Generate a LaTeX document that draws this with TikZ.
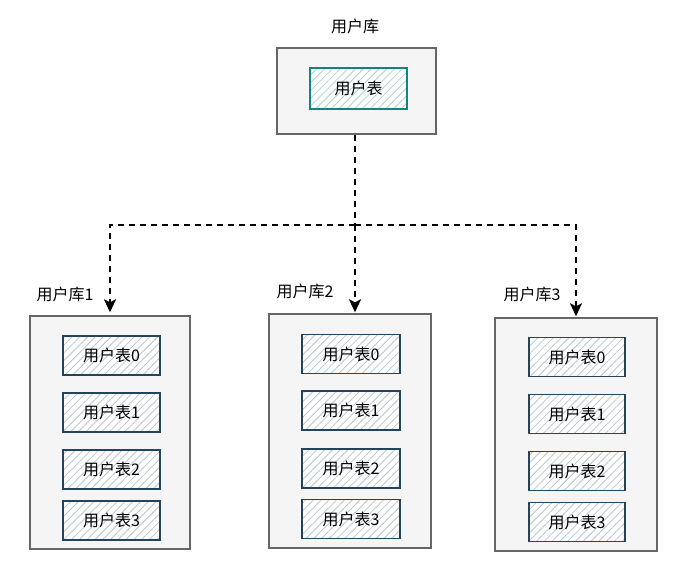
\documentclass[tikz,border=0pt]{standalone}
\usepackage{fontspec}
\setmainfont{Noto Sans CJK SC}
\usetikzlibrary{patterns.meta,arrows.meta}
\definecolor{boxfill}{HTML}{F5F5F5}
\definecolor{boxdraw}{HTML}{666666}
\definecolor{tabdraw}{HTML}{23445D}
\definecolor{tabhatch}{HTML}{BCC6D0}
\definecolor{topdraw}{HTML}{16837C}
\definecolor{tophatch}{HTML}{A8D4D0}
\tikzset{
  every node/.style={font=\fontsize{16pt}{18pt}\selectfont, inner sep=0pt},
  dbbox/.style={draw=boxdraw, fill=boxfill, line width=1.4pt, rectangle},
  tabbox/.style={draw=tabdraw, line width=1.6pt, rectangle,
    preaction={fill=white},
    pattern={Lines[angle=45,distance=5.5pt,line width=0.8pt]}, pattern color=tabhatch},
  topbox/.style={draw=topdraw, line width=1.6pt, rectangle,
    preaction={fill=white},
    pattern={Lines[angle=45,distance=5.5pt,line width=0.8pt]}, pattern color=tophatch},
  conn/.style={line width=2pt, dash pattern=on 6pt off 5pt, draw=black},
  arr/.style={conn, -{Stealth[length=13pt,width=12pt,inset=3pt]}},
  lbl/.style={text=black}
}
\begin{document}
\begin{tikzpicture}[x=1pt,y=-1pt]
\useasboundingbox (0,0) rectangle (687,580);
% top
\node[lbl] (toplbl) at (355,26) {用户库};
\node[dbbox, minimum width=159pt, minimum height=86pt] (top) at (356.5,91) {};
\node[topbox, minimum width=97pt, minimum height=41pt] (toptab) at (358.5,88.5) {用户表};
% db boxes
\node[dbbox, minimum width=160pt, minimum height=233pt] (b1) at (110,432.5) {};
\node[dbbox, minimum width=162pt, minimum height=234pt] (b2) at (350,431) {};
\node[dbbox, minimum width=162pt, minimum height=233pt] (b3) at (576,434.5) {};
\node[lbl] (l1) at (65,294) {用户库1};
\node[lbl] (l2) at (305,291) {用户库2};
\node[lbl] (l3) at (532,294) {用户库3};
% tables
\foreach \y [count=\i from 0] in {355.5,412.5,469.5,520.5}
  \node[tabbox, minimum width=97pt, minimum height=39pt] (t1\i) at (111.5,\y) {用户表\i};
\foreach \y [count=\i from 0] in {354,410.5,468.5,519}
  \node[tabbox, minimum width=98pt, minimum height=39pt] (t2\i) at (351,\y) {用户表\i};
\foreach \y [count=\i from 0] in {357,414,471,522}
  \node[tabbox, minimum width=96pt, minimum height=39pt] (t3\i) at (577,\y) {用户表\i};
% connectors
\coordinate (hub) at (355,225);
\draw[conn] (top.south -| hub) -- (hub);
\draw[arr, shorten >=3pt] (hub) -| (b1.north);
\draw[arr, shorten >=1pt] (hub) -- (b2.north -| hub);
\draw[arr, shorten >=1pt] (hub) -| (b3.north);
\end{tikzpicture}
\end{document}
